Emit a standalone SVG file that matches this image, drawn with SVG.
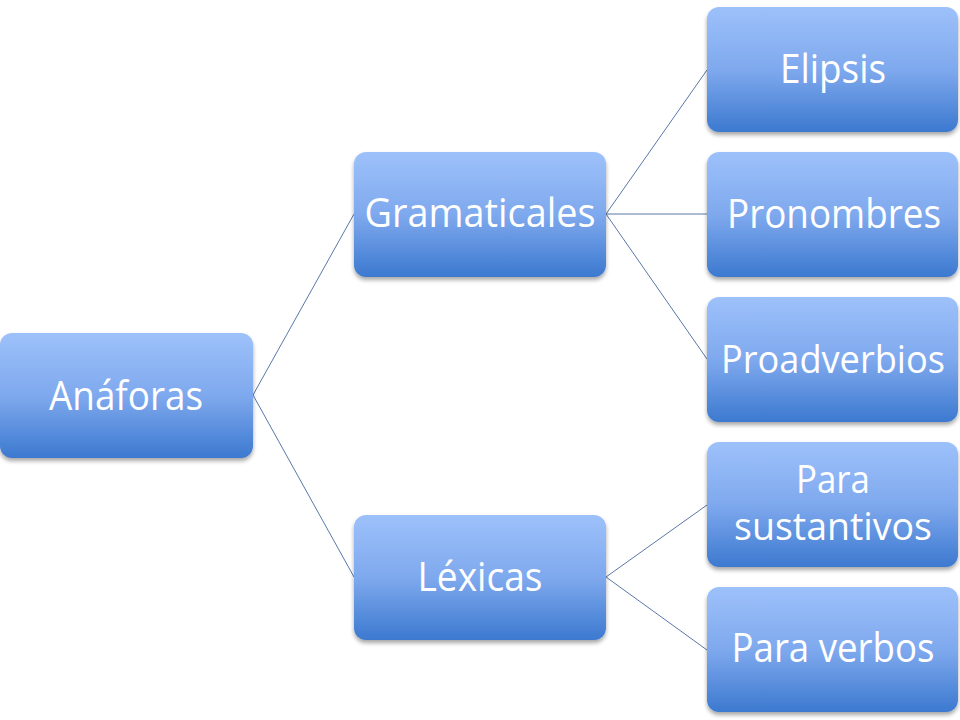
<svg xmlns="http://www.w3.org/2000/svg" width="960" height="720" viewBox="0 0 960 720">
<defs>
<linearGradient id="g" x1="0" y1="0" x2="0" y2="1">
<stop offset="0" stop-color="#9DC1FA"/>
<stop offset="0.5" stop-color="#7FA9EE"/>
<stop offset="1" stop-color="#3C79CF"/>
</linearGradient>
<filter id="sh" x="-10%" y="-10%" width="120%" height="130%">
<feGaussianBlur in="SourceAlpha" stdDeviation="2"/>
<feOffset dx="0" dy="3" result="b"/>
<feComponentTransfer><feFuncA type="linear" slope="0.35"/></feComponentTransfer>
<feMerge><feMergeNode/><feMergeNode in="SourceGraphic"/></feMerge>
</filter>
</defs>
<style>
.box{fill:url(#g);filter:url(#sh)}
.t{font-family:"Open Sans","Noto Sans",sans-serif;font-size:40px;fill:#ffffff;text-anchor:middle}
.c{stroke:#5A78A8;stroke-width:1;fill:none}
</style>
<rect width="960" height="720" fill="#ffffff"/>
<g id="connectors">
<line class="c" x1="253" y1="395" x2="354" y2="214"/>
<line class="c" x1="253" y1="395" x2="354" y2="577"/>
<line class="c" x1="606" y1="214" x2="707" y2="70"/>
<line class="c" x1="606" y1="214" x2="707" y2="214"/>
<line class="c" x1="606" y1="214" x2="707" y2="359"/>
<line class="c" x1="606" y1="577" x2="707" y2="505"/>
<line class="c" x1="606" y1="577" x2="707" y2="650"/>
</g>
<g id="anaforas">
<rect class="box" x="0" y="333" width="253" height="125" rx="12"/>
<text class="t" x="126" y="410" textLength="154" lengthAdjust="spacingAndGlyphs">Anáforas</text>
</g>
<g id="gramaticales">
<rect class="box" x="354" y="152" width="252" height="125" rx="12"/>
<text class="t" x="480" y="227" textLength="231" lengthAdjust="spacingAndGlyphs">Gramaticales</text>
</g>
<g id="lexicas">
<rect class="box" x="354" y="515" width="252" height="125" rx="12"/>
<text class="t" x="480" y="591" textLength="125" lengthAdjust="spacingAndGlyphs">Léxicas</text>
</g>
<g id="elipsis">
<rect class="box" x="707" y="7" width="251" height="125" rx="12"/>
<text class="t" x="833" y="83" textLength="106" lengthAdjust="spacingAndGlyphs">Elipsis</text>
</g>
<g id="pronombres">
<rect class="box" x="707" y="152" width="251" height="125" rx="12"/>
<text class="t" x="834" y="228" textLength="214" lengthAdjust="spacingAndGlyphs">Pronombres</text>
</g>
<g id="proadverbios">
<rect class="box" x="707" y="297" width="251" height="125" rx="12"/>
<text class="t" x="833" y="373" textLength="224" lengthAdjust="spacingAndGlyphs" style="font-size:39px">Proadverbios</text>
</g>
<g id="para-sustantivos">
<rect class="box" x="707" y="442" width="251" height="125" rx="12"/>
<text class="t" x="833" y="493" textLength="74" lengthAdjust="spacingAndGlyphs" style="font-size:38px">Para</text>
<text class="t" x="833" y="540" textLength="198" lengthAdjust="spacingAndGlyphs" style="font-size:38px">sustantivos</text>
</g>
<g id="para-verbos">
<rect class="box" x="707" y="587" width="251" height="125" rx="12"/>
<text class="t" x="833" y="662" textLength="203" lengthAdjust="spacingAndGlyphs">Para verbos</text>
</g>
</svg>
